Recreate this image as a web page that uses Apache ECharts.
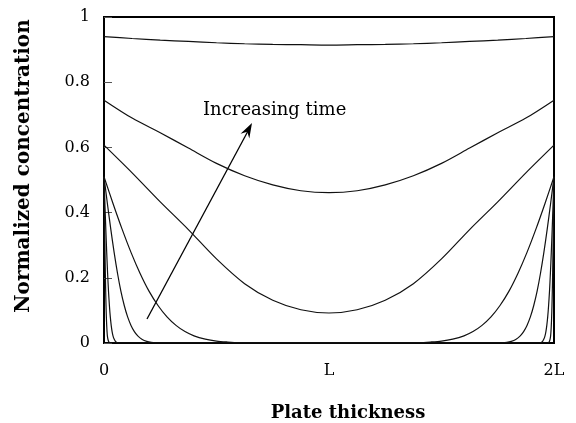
<!DOCTYPE html>
<html>
<head>
<meta charset="utf-8">
<script src="https://cdn.jsdelivr.net/npm/echarts@6/dist/echarts.min.js"></script>
<style>
  html, body { margin: 0; padding: 0; background: #fff; }
  #chart { width: 576px; height: 423px; }
</style>
</head>
<body>
<div id="chart"></div>
<script>
// Concentration profiles across a plate of thickness 2L (position in units of L).
// Each profile is listed for the left half, 0..L; the right half mirrors it.
const xTickLabels = { 0: '0', 1: 'L', 2: '2L' };
const yTicks = [0, 0.2, 0.4, 0.6, 0.8, 1];

const profile1 = [[0, 0.940], [0.125, 0.934], [0.25, 0.929], [0.375, 0.925], [0.5, 0.921], [0.625, 0.918], [0.75, 0.916], [0.875, 0.915], [1, 0.914]];
const profile2 = [[0, 0.745], [0.125, 0.690], [0.25, 0.645], [0.375, 0.598], [0.5, 0.551], [0.625, 0.513], [0.75, 0.485], [0.875, 0.467], [1, 0.461]];
const profile3 = [[0, 0.607], [0.125, 0.522], [0.25, 0.433], [0.375, 0.348], [0.5, 0.258], [0.625, 0.182], [0.75, 0.131], [0.875, 0.102], [1, 0.092]];
const profile4 = [[0, 0.510], [0.04, 0.428], [0.08, 0.350], [0.12, 0.278], [0.16, 0.214], [0.2, 0.159], [0.24, 0.115], [0.28, 0.080], [0.32, 0.054], [0.36, 0.035], [0.4, 0.022], [0.45, 0.012], [0.5, 0.006], [0.55, 0.003], [0.6, 0.001], [0.7, 0], [1, 0]];
const profile5 = [[0, 0.510], [0.015, 0.428], [0.03, 0.350], [0.045, 0.278], [0.06, 0.214], [0.075, 0.159], [0.09, 0.115], [0.105, 0.080], [0.12, 0.054], [0.135, 0.035], [0.15, 0.022], [0.17, 0.011], [0.19, 0.005], [0.21, 0.002], [0.24, 0], [1, 0]];
const profile6 = [[0, 0.510], [0.004, 0.428], [0.008, 0.350], [0.012, 0.278], [0.016, 0.214], [0.02, 0.159], [0.024, 0.115], [0.028, 0.080], [0.032, 0.054], [0.036, 0.035], [0.04, 0.022], [0.045, 0.012], [0.05, 0.006], [0.056, 0.002], [0.064, 0], [1, 0]];
const profile7 = [[0, 0.510], [0.0015, 0.428], [0.003, 0.350], [0.0045, 0.278], [0.006, 0.214], [0.0075, 0.159], [0.009, 0.115], [0.0105, 0.080], [0.012, 0.054], [0.0135, 0.035], [0.015, 0.022], [0.018, 0.010], [0.022, 0.003], [0.028, 0], [1, 0]];

const profiles = [profile1, profile2, profile3, profile4, profile5, profile6, profile7];

// left half followed by its mirror image about x = L
function fullWidth(half) {
  const right = half.slice(0, -1).reverse().map(p => [2 - p[0], p[1]]);
  return half.concat(right);
}

const serif = '"DejaVu Serif", "Liberation Serif", serif';
const chart = echarts.init(document.getElementById('chart'), null, { renderer: 'canvas' });

// arrow annotation endpoints (pixels)
const arrowFrom = [147, 319];
const arrowTo = [252, 123];
function arrowHead(from, to, len, half, notch) {
  const dx = to[0] - from[0], dy = to[1] - from[1];
  const d = Math.hypot(dx, dy), ux = dx / d, uy = dy / d;
  const nx = -uy, ny = ux;
  const bx = to[0] - len * ux, by = to[1] - len * uy;
  return [
    to,
    [bx + half * nx, by + half * ny],
    [to[0] - notch * ux, to[1] - notch * uy],
    [bx - half * nx, by - half * ny]
  ];
}

chart.setOption({
  animation: false,
  backgroundColor: '#fff',
  grid: { left: 104, top: 17, width: 450, height: 326, show: true, borderColor: '#000', borderWidth: 2 },
  xAxis: {
    type: 'value', min: 0, max: 2, interval: 1,
    axisLine: { show: false },
    axisTick: { show: false },
    splitLine: { show: false },
    axisLabel: {
      color: '#000', fontFamily: serif, fontSize: 16, margin: 20,
      formatter: v => xTickLabels[v] !== undefined ? xTickLabels[v] : ''
    }
  },
  yAxis: {
    type: 'value', min: 0, max: 1, interval: 0.2,
    axisLine: { show: false },
    axisTick: { show: true, inside: true, length: 8, lineStyle: { color: '#555', width: 1 } },
    splitLine: { show: false },
    axisLabel: {
      color: '#000', fontFamily: serif, fontSize: 16, margin: 14,
      formatter: v => {
        const t = yTicks.find(y => Math.abs(y - v) < 1e-9);
        return t === undefined ? '' : String(+t.toFixed(1));
      }
    }
  },
  series: profiles.map(p => ({
    type: 'line',
    data: fullWidth(p),
    showSymbol: false,
    smooth: 0.3,
    lineStyle: { color: '#111', width: 1.2 },
    silent: true
  })),
  graphic: [
    {
      type: 'text', left: 203, top: 101,
      style: { text: 'Increasing time', font: '18px ' + serif, fill: '#000' }
    },
    {
      type: 'line',
      shape: { x1: arrowFrom[0], y1: arrowFrom[1], x2: arrowTo[0] - 4, y2: arrowTo[1] + 8 },
      style: { stroke: '#000', lineWidth: 1.3 }
    },
    {
      type: 'polygon',
      shape: { points: arrowHead(arrowFrom, arrowTo, 15, 5, 10) },
      style: { fill: '#000' }
    },
    {
      type: 'text', x: 348, y: 413,
      style: { text: 'Plate thickness', font: 'bold 18px ' + serif, fill: '#000', align: 'center', verticalAlign: 'middle' }
    },
    {
      type: 'text', x: 24, y: 166, rotation: Math.PI / 2,
      style: { text: 'Normalized concentration', font: 'bold 20px ' + serif, fill: '#000', align: 'center', verticalAlign: 'middle' }
    }
  ]
});
</script>
</body>
</html>
